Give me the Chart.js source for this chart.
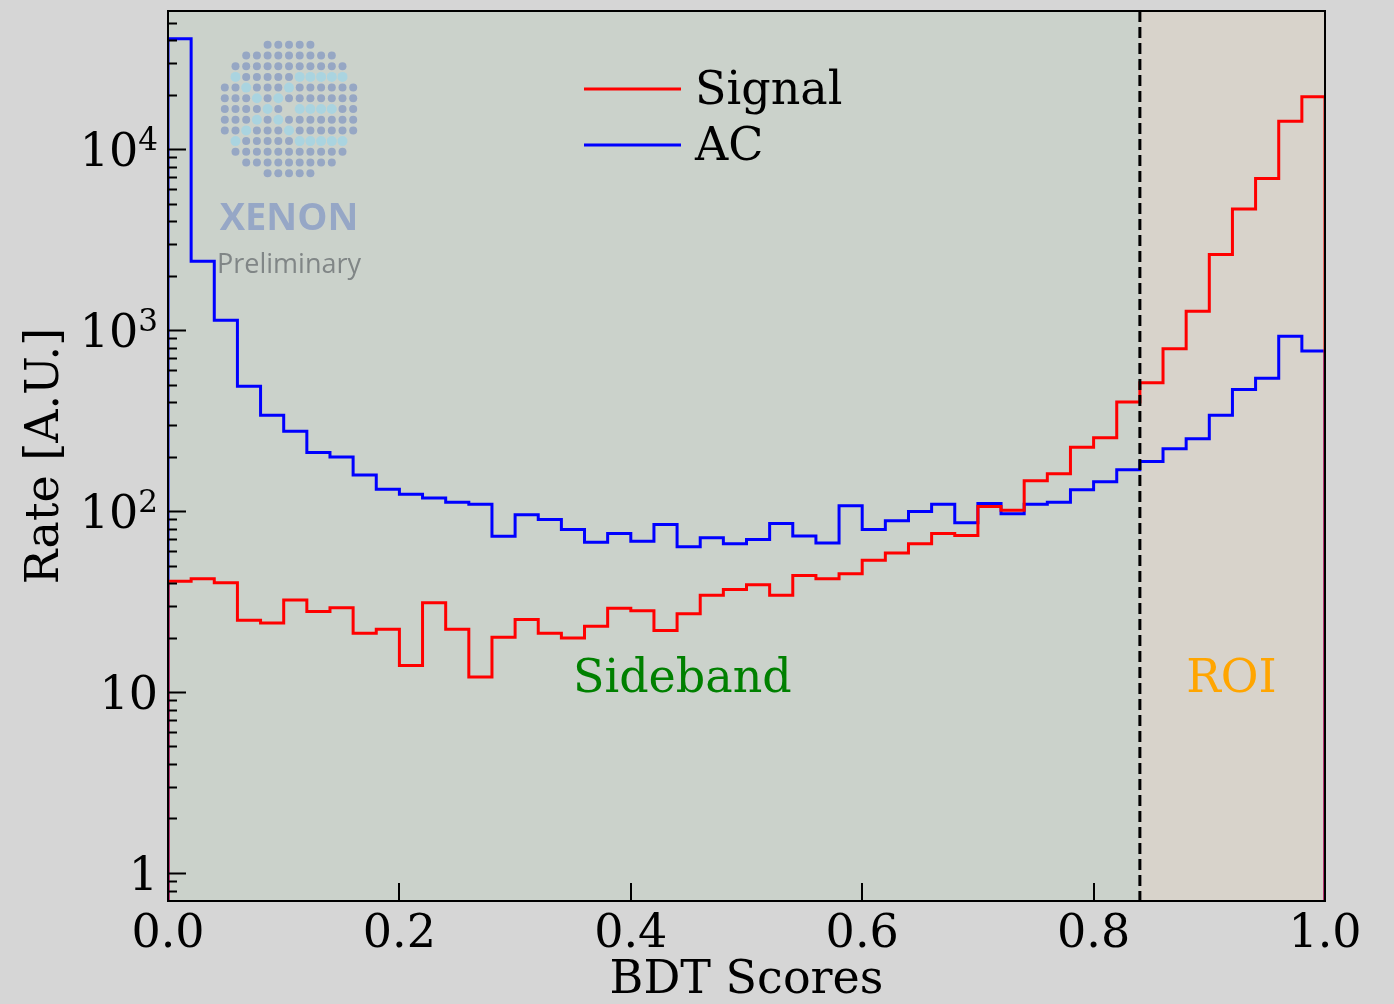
<!DOCTYPE html>
<html>
<head>
<meta charset="utf-8">
<script src="https://cdn.jsdelivr.net/npm/chart.js@4.4.1/dist/chart.umd.min.js"></script>
<style>
  html, body { margin: 0; padding: 0; background: rgb(214, 214, 214); }
  canvas { display: block; }
</style>
</head>
<body>
<canvas id="Chart" width="1394" height="1004"></canvas>
<script>
// histogram bins (BDT score), 50 bins of 0.02
const binEdges = [
  0.00, 0.02, 0.04, 0.06, 0.08, 0.10, 0.12, 0.14, 0.16, 0.18,
  0.20, 0.22, 0.24, 0.26, 0.28, 0.30, 0.32, 0.34, 0.36, 0.38,
  0.40, 0.42, 0.44, 0.46, 0.48, 0.50, 0.52, 0.54, 0.56, 0.58,
  0.60, 0.62, 0.64, 0.66, 0.68, 0.70, 0.72, 0.74, 0.76, 0.78,
  0.80, 0.82, 0.84, 0.86, 0.88, 0.90, 0.92, 0.94, 0.96, 0.98, 1.00
];

const signalRate = [
  40.9, 42.2, 40.1, 24.9, 24.1, 32.2, 27.9, 29.2, 21.1, 22.2,
  14.0, 31.1, 22.2, 12.1, 20.1, 25.2, 21.1, 19.9, 23.1, 29.0,
  28.1, 21.9, 27.1, 34.3, 36.9, 39.1, 34.3, 44.0, 42.2, 45.0,
  53.5, 58.7, 65.9, 75.1, 73.2, 106, 101, 147, 161, 225,
  254, 401, 511, 790, 1270, 2613, 4673, 6873, 14250, 19500
];

const acRate = [
  40800, 2400, 1133, 489, 338, 276, 211, 199, 158, 132,
  124, 118, 112, 109, 72.6, 95.3, 89.8, 79.0, 67.2, 75.1,
  68.1, 84.2, 63.4, 71.1, 65.9, 69.6, 85.3, 72.9, 66.7, 107,
  79.0, 88.3, 99.3, 109, 86.1, 110, 96.6, 109, 112, 131,
  145, 169, 188, 221, 251, 338, 469, 542, 925, 767
];

const xTickValues = [0.2, 0.4, 0.6, 0.8];
const yMajorTicks = [1, 10, 100, 1000, 10000];
// [base, exponent] for the major y labels
const yMajorLabels = [['1', ''], ['10', ''], ['10', '2'], ['10', '3'], ['10', '4']];
const roiCut = 0.84;
const yMin = 0.705;
const yMax = 58000;

const FONT = "'DejaVu Serif', serif";

// minor log ticks 2..9 of each decade
const yTickValues = [];
[0.1, 1, 10, 100, 1000, 10000].forEach(d => {
  for (let m = 1; m <= 9; m++) {
    const v = +(d * m).toPrecision(6);
    if (v >= yMin && v <= yMax) yTickValues.push(v);
  }
});

function isMajor(v) {
  return yMajorTicks.some(t => Math.abs(t - v) / t < 1e-6);
}

function histOutline(values) {
  const last = binEdges.length - 1;
  const pts = [{x: binEdges[0], y: yMin}];
  values.forEach((v, i) => pts.push({x: binEdges[i], y: v}));
  pts.push({x: binEdges[last], y: values[values.length - 1]});
  pts.push({x: binEdges[last], y: yMin});
  return pts;
}

// XENON logo dot pattern: row -> [half width, cyan columns, empty columns]
const logoRows = [
  [2, [], []], [4, [], []], [5, [], []],
  [5, [-5, 1, 2, 3, 4, 5], []],
  [6, [-4, 0], []],
  [6, [-3, -1], []],
  [6, [-2, 1, 2, 3, 4], [0]],
  [6, [-3, -1], []],
  [6, [-4, 0], []],
  [5, [-5, 1, 2, 3, 4, 5], []],
  [5, [], []], [4, [], []], [2, [], []]
];

function drawLogo(ctx) {
  const cx = 289, cy = 109, step = 10.7;
  logoRows.forEach((row, ri) => {
    const [half, cyan, empty] = row;
    const y = cy + (ri - 6) * step;
    for (let k = -half; k <= half; k++) {
      if (empty.includes(k)) continue;
      const c = cyan.includes(k);
      ctx.beginPath();
      ctx.arc(cx + k * step, y, c ? 5 : 4, 0, Math.PI * 2);
      ctx.fillStyle = c ? 'rgb(170, 212, 224)' : 'rgb(150, 167, 196)';
      ctx.fill();
    }
  });
  ctx.textAlign = 'center';
  ctx.textBaseline = 'alphabetic';
  ctx.fillStyle = 'rgb(150, 167, 198)';
  ctx.font = "bold 38px 'Open Sans', sans-serif";
  ctx.fillText('XENON', 289, 230);
  ctx.fillStyle = 'rgb(128, 134, 134)';
  ctx.font = "27px 'Open Sans', sans-serif";
  ctx.fillText('Preliminary', 289, 273);
}

const decor = {
  id: 'decor',
  beforeDatasetsDraw(chart) {
    const {ctx, chartArea: a, scales: {x}} = chart;
    const cut = x.getPixelForValue(roiCut);
    ctx.save();
    ctx.fillStyle = 'rgba(0, 128, 0, 0.05)';
    ctx.fillRect(a.left, a.top, cut - a.left, a.bottom - a.top);
    ctx.fillStyle = 'rgba(255, 165, 0, 0.05)';
    ctx.fillRect(cut, a.top, a.right - cut, a.bottom - a.top);
    drawLogo(ctx);
    ctx.restore();
  },
  afterDatasetsDraw(chart) {
    const {ctx, chartArea: a, scales: {x, y}} = chart;
    ctx.save();

    // ROI cut line
    const cut = x.getPixelForValue(roiCut);
    ctx.strokeStyle = '#000';
    ctx.lineWidth = 3;
    ctx.setLineDash([11, 5]);
    ctx.beginPath();
    ctx.moveTo(cut, a.top);
    ctx.lineTo(cut, a.bottom);
    ctx.stroke();
    ctx.setLineDash([]);

    // ticks pointing in
    ctx.lineWidth = 2;
    ctx.beginPath();
    yTickValues.forEach(v => {
      const py = Math.round(y.getPixelForValue(v)) + 0.5;
      ctx.moveTo(a.left, py);
      ctx.lineTo(a.left + (isMajor(v) ? 18 : 9), py);
    });
    xTickValues.forEach(v => {
      const px = Math.round(x.getPixelForValue(v));
      ctx.moveTo(px, a.bottom);
      ctx.lineTo(px, a.bottom - 18);
    });
    ctx.stroke();

    // frame
    ctx.strokeRect(a.left, a.top, a.right - a.left, a.bottom - a.top);

    // y tick labels with raised exponents
    ctx.fillStyle = '#000';
    ctx.textAlign = 'left';
    ctx.textBaseline = 'alphabetic';
    yMajorTicks.forEach((v, i) => {
      const [base, exp] = yMajorLabels[i];
      const baseline = y.getPixelForValue(v) + 17;
      ctx.font = '31px ' + FONT;
      const ew = exp ? ctx.measureText(exp).width : 0;
      ctx.font = '46px ' + FONT;
      const bw = ctx.measureText(base).width;
      const right = a.left - 10;
      ctx.fillText(base, right - ew - bw, baseline);
      if (exp) {
        ctx.font = '31px ' + FONT;
        ctx.fillText(exp, right - ew, baseline - 16);
      }
    });

    // region labels
    ctx.font = '46px ' + FONT;
    ctx.fillStyle = 'green';
    ctx.fillText('Sideband', x.getPixelForValue(0.35), y.getPixelForValue(10));
    ctx.fillStyle = 'orange';
    ctx.fillText('ROI', x.getPixelForValue(0.88), y.getPixelForValue(10));

    // legend
    ctx.textBaseline = 'middle';
    chart.data.datasets.forEach((ds, i) => {
      const ly = 89 + i * 56;
      ctx.strokeStyle = ds.borderColor;
      ctx.lineWidth = 3;
      ctx.beginPath();
      ctx.moveTo(584, ly);
      ctx.lineTo(681, ly);
      ctx.stroke();
      ctx.fillStyle = '#000';
      ctx.fillText(ds.label, 695, ly + 3);
    });
    ctx.restore();
  }
};

const ctx = document.getElementById('Chart');

new Chart(ctx, {
  type: 'line',
  data: {
    datasets: [{
      label: 'Signal',
      data: histOutline(signalRate),
      borderColor: '#ff0000',
      borderWidth: 3,
      stepped: 'before',
      pointRadius: 0,
      fill: false
    }, {
      label: 'AC',
      data: histOutline(acRate),
      borderColor: '#0000ff',
      borderWidth: 3,
      stepped: 'before',
      pointRadius: 0,
      fill: false
    }]
  },
  options: {
    responsive: false,
    animation: false,
    layout: { padding: { top: 11, right: 69, left: 0, bottom: 0 } },
    plugins: {
      legend: { display: false },
      tooltip: { enabled: false }
    },
    scales: {
      x: {
        type: 'linear',
        min: 0,
        max: 1,
        grid: { display: false, drawTicks: false },
        border: { display: false },
        ticks: {
          stepSize: 0.2,
          padding: 6,
          color: '#000',
          font: { family: FONT, size: 46 },
          callback: v => v.toFixed(1)
        },
        title: {
          display: true,
          text: 'BDT Scores',
          color: '#000',
          font: { family: FONT, size: 46, lineHeight: 1.0 },
          padding: 0
        },
        afterFit(s) {
          s.height = 103;
          s.paddingLeft = 0;
          s.paddingRight = 0;
        }
      },
      y: {
        type: 'logarithmic',
        min: yMin,
        max: yMax,
        grid: { display: false, drawTicks: false },
        border: { display: false },
        afterBuildTicks(s) { s.ticks = yTickValues.map(v => ({ value: v })); },
        ticks: { display: false },
        title: {
          display: true,
          text: 'Rate [A.U.]',
          color: '#000',
          font: { family: FONT, size: 46 },
          padding: { top: 18, bottom: 0 }
        },
        afterFit(s) {
          s.width = 168;
          s.paddingTop = 0;
          s.paddingBottom = 0;
        }
      }
    }
  },
  plugins: [decor]
});
</script>
</body>
</html>
